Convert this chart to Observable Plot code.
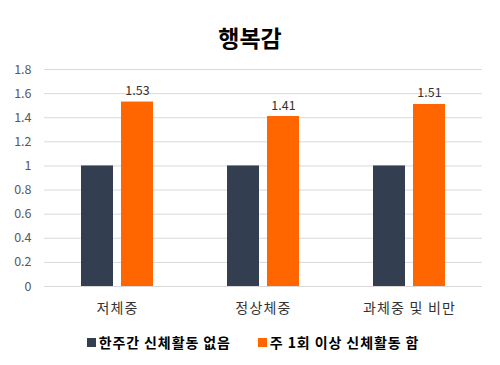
<!DOCTYPE html>
<html>
<head>
<meta charset="utf-8">
<script src="https://cdn.jsdelivr.net/npm/d3@7"></script>
<script src="https://cdn.jsdelivr.net/npm/@observablehq/plot@0.6"></script>
<style>
  html, body { margin: 0; padding: 0; background: #fff; }
  body { width: 500px; height: 365px; overflow: hidden; font-family: "Noto Sans CJK KR", "Noto Sans", sans-serif; }
  #title { height: 55px; box-sizing: border-box; padding-top: 23px; text-align: center; font-size: 23px; line-height: 28px; font-weight: bold; color: #000; }
  #legend { display: flex; justify-content: center; gap: 27px; margin-top: 8px; line-height: 18px; font-size: 14px; letter-spacing: 0.9px; font-weight: bold; color: #000; padding-left: 6px; }
  #legend .item { display: flex; align-items: center; gap: 3px; }
  #legend .sw { width: 9px; height: 9px; display: inline-block; }
  svg { display: block; }
  g[aria-label="fx-axis tick label"] { letter-spacing: 1.2px; }
</style>
</head>
<body>
<div id="title">행복감</div>
<div id="chart"></div>
<div id="legend"></div>
<script>
const categories = ["저체중", "정상체중", "과체중 및 비만"];
const series = ["한주간 신체활동 없음", "주 1회 이상 신체활동 함"];
const noActivity = [1, 1, 1];
const weeklyActivity = [1.53, 1.41, 1.51];
const yTicks = [0, 0.2, 0.4, 0.6, 0.8, 1, 1.2, 1.4, 1.6, 1.8];
const colors = ["#333F50", "#FF6600"];

const data = categories.flatMap((c, i) => [
  {category: c, series: series[0], value: noActivity[i]},
  {category: c, series: series[1], value: weeklyActivity[i]}
]);

const chart = Plot.plot({
  width: 500,
  height: 270,
  marginTop: 14,
  marginBottom: 39,
  marginLeft: 44,
  marginRight: 18,
  style: {fontFamily: "'Noto Sans CJK KR', 'Noto Sans', sans-serif", background: "#fff"},
  fx: {domain: categories, padding: 0, label: null},
  x: {domain: series, paddingInner: 0.195, paddingOuter: 0.878, axis: null},
  y: {domain: [0, 1.8], axis: null},
  color: {domain: series, range: colors},
  marks: [
    Plot.gridY(yTicks, {stroke: "#D9D9D9", strokeOpacity: 1, strokeWidth: 1}),
    Plot.axisY(yTicks, {tickSize: 0, tickPadding: 13, tickFormat: d3.format("~g"), fill: "#595959", fontSize: 12.5, label: null}),
    Plot.axisFx({anchor: "bottom", tickSize: 0, tickPadding: 17, fontSize: 14, fill: "#333", label: null}),
    Plot.barY(data, {fx: "category", x: "series", y: "value", fill: "series"}),
    Plot.text(data.filter(d => d.series === series[1]), {
      fx: "category", x: "series", y: "value",
      text: d => d.value.toFixed(2),
      lineAnchor: "bottom", dy: -7, fill: "#333", fontSize: 12.5
    })
  ]
});
document.getElementById("chart").appendChild(chart);

const legend = document.getElementById("legend");
series.forEach((s, i) => {
  const item = document.createElement("div");
  item.className = "item";
  const sw = document.createElement("span");
  sw.className = "sw";
  sw.style.background = colors[i];
  const label = document.createElement("span");
  label.textContent = s;
  item.appendChild(sw);
  item.appendChild(label);
  legend.appendChild(item);
});
</script>
</body>
</html>
